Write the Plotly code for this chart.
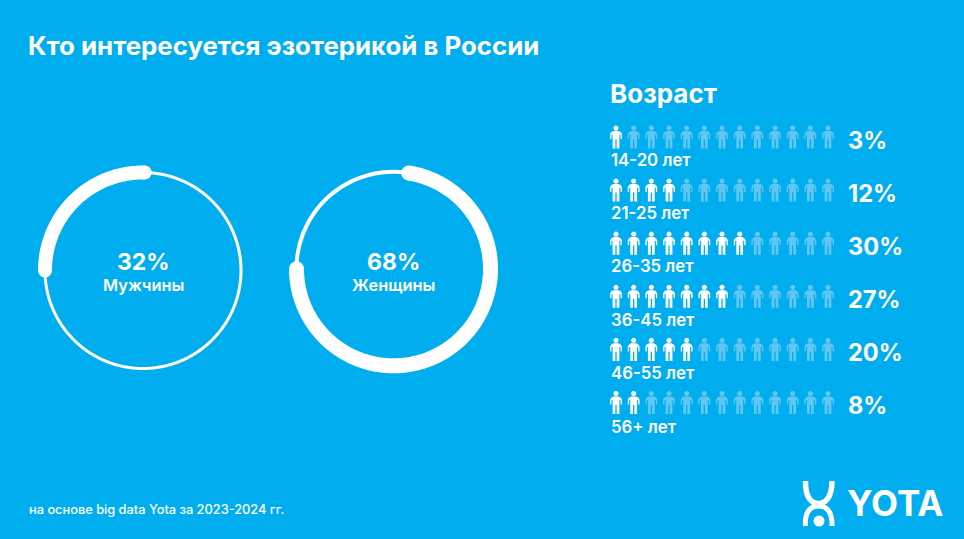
import numpy as np
import plotly.graph_objects as go

W, H = 964, 539
BG = "#00AEEF"
WHITE = "#FFFFFF"
FADED = "#62C6F2"
FONT = "Inter"

title = "Кто интересуется эзотерикой в России"
age_title = "Возраст"
footer = "на основе big data Yota за 2023-2024 гг."
brand = "YOTA"

gender_labels = ["Мужчины", "Женщины"]
gender_values = [32, 68]
arc_start = [270, 9]      # clockwise degrees from the top
arc_end = [361, 270]

age_labels = ["14-20 лет", "21-25 лет", "26-35 лет", "36-45 лет", "46-55 лет", "56+ лет"]
age_values = [3, 12, 30, 27, 20, 8]
age_icons = [1, 4, 8, 7, 5, 2]
icons_per_row = 13

fig = go.Figure()

# ---------- rings ----------
ring_cx = [143, 393.5]
ring_cy = [270.5, 268.8]
ring_r = [98, 97]
thin_w = [3, 4]
thick_w = [14, 15]
half = 120
for k in range(2):
    sub = "polar" if k == 0 else "polar2"
    th_full = np.linspace(0, 360, 361)
    fig.add_trace(go.Scatterpolar(r=np.ones_like(th_full), theta=th_full, mode="lines",
                                  line=dict(color=WHITE, width=thin_w[k]), subplot=sub,
                                  hoverinfo="skip", showlegend=False))
    th = np.arange(arc_start[k], arc_end[k] + 1)
    fig.add_trace(go.Scatterpolar(r=np.ones_like(th), theta=th, mode="lines",
                                  line=dict(color=WHITE, width=thick_w[k]), subplot=sub,
                                  name=gender_labels[k], showlegend=False))
    fig.add_trace(go.Scatterpolar(r=[1, 1], theta=[arc_start[k], arc_end[k]], mode="markers",
                                  marker=dict(color=WHITE, size=thick_w[k]), subplot=sub,
                                  hoverinfo="skip", showlegend=False))

def polar_layout(cx, cy, r_pix):
    return dict(
        domain=dict(x=[(cx - half) / W, (cx + half) / W],
                    y=[(H - cy - half) / H, (H - cy + half) / H]),
        bgcolor="rgba(0,0,0,0)",
        radialaxis=dict(visible=False, range=[0, half / r_pix]),
        angularaxis=dict(visible=False, rotation=90, direction="clockwise"),
    )

# ---------- pictogram: one person outline, placed by (icon index, row index) ----------
STEP_X, STEP_Y = 17.67, 53.1
X0, Y0 = 616, 137.2
body = [(-2.6, -6.3), (2.6, -6.3), (4.6, -5.2), (5.9, -3.2), (5.9, 1.8), (4.6, 1.8), (4.5, -2.6), (3.4, -2.6),
        (3.4, 11.3), (0.65, 11.3), (0.65, 2.2), (-0.65, 2.2), (-0.65, 11.3), (-3.4, 11.3),
        (-3.4, -2.6), (-4.5, -2.6), (-4.6, 1.8), (-5.9, 1.8), (-5.9, -3.2), (-4.6, -5.2), (-2.6, -6.3)]
ang = np.linspace(0, 2 * np.pi, 17)
head = [(2.6 * np.cos(a), -9.2 + 2.6 * np.sin(a)) for a in ang]

def people(cells):
    xs, ys = [], []
    for col, row in cells:
        for shape in (body, head):
            xs += [col + px / STEP_X for px, _ in shape] + [None]
            ys += [row + py / STEP_Y for _, py in shape] + [None]
    return xs, ys

on = [(c, r) for r, n in enumerate(age_icons) for c in range(n)]
off = [(c, r) for r, n in enumerate(age_icons) for c in range(n, icons_per_row)]
for cells, col in ((off, FADED), (on, WHITE)):
    x, y = people(cells)
    fig.add_trace(go.Scatter(x=x, y=y, mode="lines", fill="toself", fillcolor=col,
                             line=dict(width=0, color=col), hoverinfo="skip", showlegend=False))

# ---------- text ----------
def txt(s, x, y, size, weight=700, anchor="left"):
    fig.add_annotation(text=s, xref="paper", yref="paper", x=x / W, y=1 - y / H,
                       xanchor=anchor, yanchor="middle", showarrow=False,
                       font=dict(family=FONT, size=size, color=WHITE, weight=weight))

txt(title, 26, 45.5, 25.8)
txt(age_title, 607.5, 94, 26)
txt(footer, 26.5, 509, 12.8, 500)
for k, cx in enumerate([143, 393]):
    txt(f"{gender_values[k]}%", cx, 262, 23, 700, "center")
    txt(gender_labels[k], cx, 285, 16.4, 600, "center")
for r, (lab, v) in enumerate(zip(age_labels, age_values)):
    txt(lab, 609, 159.5 + 53.4 * r, 16.8, 600)
    txt(f"{v}%", 846, 140.5 + 53 * r, 23.6, 700)
txt(brand, 845, 502.5, 35, 700)

# ---------- logo ----------
def P(x, y):
    return f"{x / W:.5f} {1 - y / H:.5f}"

logo_shapes = [
    dict(type="path", xref="paper", yref="paper", line=dict(color=WHITE, width=5.5), layer="above",
         path=f"M {P(805.5, 481)} C {P(805, 498)} {P(812, 503.5)} {P(818.5, 503.5)} "
              f"C {P(825, 503.5)} {P(832, 498)} {P(832, 481)}"),
    dict(type="path", xref="paper", yref="paper", line=dict(color=WHITE, width=5), layer="above",
         path=f"M {P(805.5, 526)} C {P(804.5, 511)} {P(811, 506)} {P(818.5, 506)} "
              f"C {P(826, 506)} {P(832.5, 511)} {P(832, 526)}"),
    dict(type="circle", xref="paper", yref="paper", fillcolor=WHITE, line=dict(width=0),
         x0=813.5 / W, x1=824.5 / W, y0=1 - 526.5 / H, y1=1 - 515.5 / H),
]

fig.update_layout(
    width=W, height=H, margin=dict(l=0, r=0, t=0, b=0), autosize=False,
    paper_bgcolor=BG, plot_bgcolor=BG, showlegend=False,
    polar=polar_layout(ring_cx[0], ring_cy[0], ring_r[0]),
    polar2=polar_layout(ring_cx[1], ring_cy[1], ring_r[1]),
    xaxis=dict(visible=False, range=[-X0 / STEP_X, (W - X0) / STEP_X], domain=[0, 1], fixedrange=True),
    yaxis=dict(visible=False, range=[(H - Y0) / STEP_Y, -Y0 / STEP_Y], domain=[0, 1], fixedrange=True),
    shapes=logo_shapes,
)

fig.write_html("out.html", config=dict(displayModeBar=False),
               post_script="document.body.style.margin='0';document.documentElement.style.overflow='hidden';document.body.style.background='#00AEEF';")
